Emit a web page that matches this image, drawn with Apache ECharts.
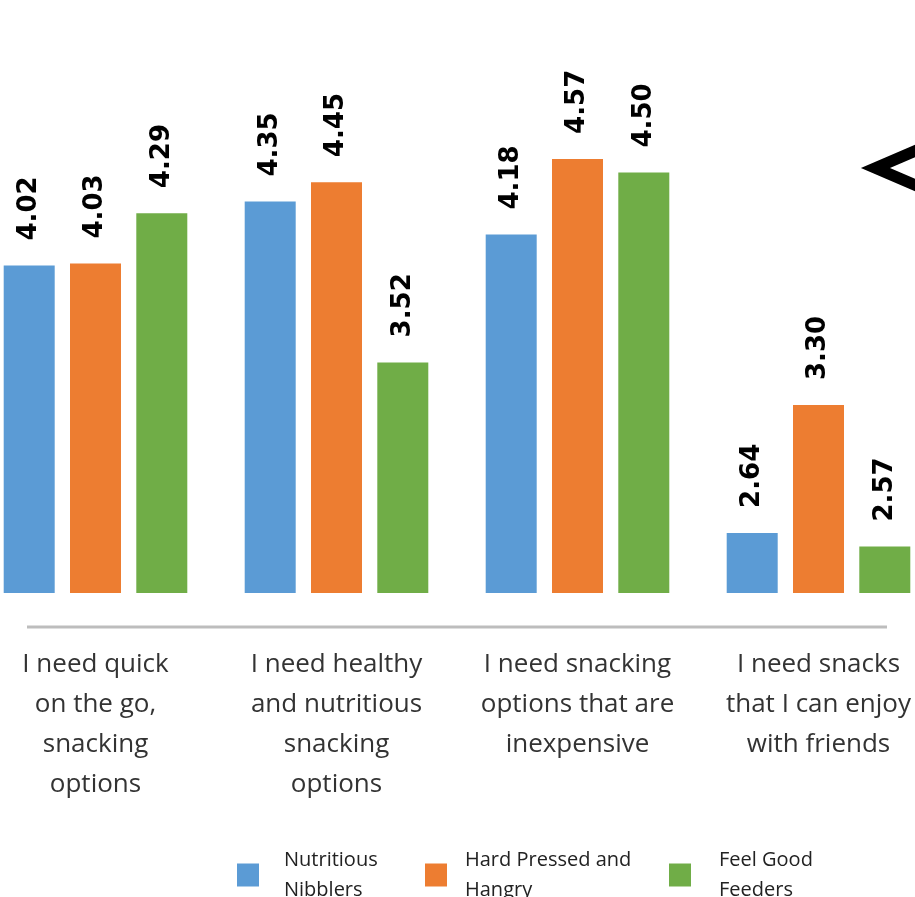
<!DOCTYPE html>
<html>
<head>
<meta charset="utf-8">
<script src="https://cdn.jsdelivr.net/npm/echarts@6/dist/echarts.min.js"></script>
<style>
  html, body { margin: 0; padding: 0; background: #fff; }
  #chart { width: 915px; height: 897px; }
</style>
</head>
<body>
<div id="chart"></div>
<script>
// Snacking needs by shopper segment (mean agreement scores)
const categories = [
  'I need quick\non the go,\nsnacking\noptions',
  'I need healthy\nand nutritious\nsnacking\noptions',
  'I need snacking\noptions that are\ninexpensive',
  'I need snacks\nthat I can enjoy\nwith friends'
];
const seriesNames = ['Nutritious\nNibblers', 'Hard Pressed and\nHangry', 'Feel Good\nFeeders'];
const nutritiousNibblers = [4.02, 4.35, 4.18, 2.64];
const hardPressedHangry = [4.03, 4.45, 4.57, 3.30];
const feelGoodFeeders = [4.29, 3.52, 4.50, 2.57];

const colors = ['#5B9BD5', '#ED7D31', '#70AD47'];
const valueSets = [nutritiousNibblers, hardPressedHangry, feelGoodFeeders];

const chart = echarts.init(document.getElementById('chart'), null, { renderer: 'canvas' });

const labelStyle = {
  show: true,
  position: 'top',
  distance: 25,
  rotate: 90,
  align: 'left',
  verticalAlign: 'middle',
  fontFamily: 'DejaVu Sans',
  fontWeight: 'bold',
  fontSize: 26,
  color: '#000',
  formatter: p => p.value.toFixed(2)
};

function legendAt(name, left, textGap) {
  return {
    data: [name],
    left: left,
    top: 840,
    orient: 'horizontal',
    itemWidth: 22,
    itemHeight: 23,
    icon: 'rect',
    textStyle: {
      fontFamily: 'Open Sans',
      fontSize: 20,
      lineHeight: 30,
      color: '#222',
      padding: [0, 0, 0, textGap]
    }
  };
}

chart.setOption({
  animation: false,
  color: colors,
  grid: {
    left: -25,
    right: -24,
    top: 0,
    bottom: 304,
    containLabel: false,
    outerBoundsMode: 'none'
  },
  legend: [
    legendAt(seriesNames[0], 232, 20),
    legendAt(seriesNames[1], 420, 13),
    legendAt(seriesNames[2], 664, 23)
  ],
  xAxis: {
    type: 'category',
    data: categories,
    axisLine: { show: false },
    axisTick: { show: false },
    axisLabel: {
      margin: 52,
      interval: 0,
      fontFamily: 'Open Sans',
      fontSize: 26,
      lineHeight: 40,
      color: '#333',
      align: 'center'
    }
  },
  yAxis: {
    type: 'value',
    min: 2.33,
    max: 5.39,
    show: false,
    splitLine: { show: false }
  },
  series: seriesNames.map((name, i) => ({
    name: name,
    type: 'bar',
    data: valueSets[i],
    barWidth: 51,
    barGap: '30%',
    itemStyle: { color: colors[i] },
    label: labelStyle
  })),
  graphic: [
    {
      // baseline under the category groups
      type: 'line',
      shape: { x1: 27, y1: 627, x2: 887, y2: 627 },
      style: { stroke: '#bdbdbd', lineWidth: 3 }
    },
    {
      // chevron mark at the right edge
      type: 'polyline',
      shape: { points: [[935, 142.5], [875.5, 168], [935, 193.5]] },
      style: { stroke: '#000', lineWidth: 11.5, lineJoin: 'miter', miterLimit: 10, fill: null }
    }
  ]
});
</script>
</body>
</html>
